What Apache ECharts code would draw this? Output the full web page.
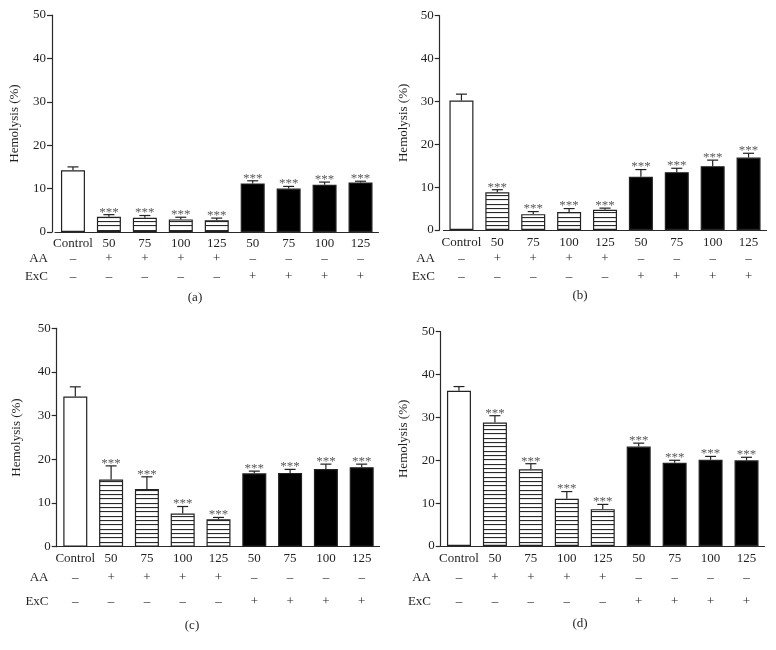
<!DOCTYPE html>
<html><head><meta charset="utf-8">
<script src="https://cdn.jsdelivr.net/npm/echarts@6/dist/echarts.min.js"></script>
<style>html,body{margin:0;padding:0;background:#fff}#c{width:776px;height:650px}</style>
</head><body><div id="c"></div>
<script>
// ---------- data ----------
const categories = ['Control', '50', '75', '100', '125', '50', '75', '100', '125'];
const aaSigns  = ['–', '+', '+', '+', '+', '–', '–', '–', '–'];
const excSigns = ['–', '–', '–', '–', '–', '+', '+', '+', '+'];
const rowNames = ['AA', 'ExC'];
const panelLetters = ['(a)', '(b)', '(c)', '(d)'];
const sigLabels = ['', '***', '***', '***', '***', '***', '***', '***', '***'];
const yAxisName = 'Hemolysis (%)';
// bar type per category: 0 = control (white), 1 = AA (hatched), 2 = ExC (black)
const barKinds = [0, 1, 1, 1, 1, 2, 2, 2, 2];

const meanA = [14.2, 3.5, 3.3, 2.9, 2.7, 11.2, 10.0, 10.9, 11.4];
const errA  = [0.8, 0.5, 0.5, 0.5, 0.5, 0.6, 0.5, 0.6, 0.3];
const meanB = [30.2, 8.8, 3.7, 4.2, 4.7, 12.4, 13.5, 14.9, 16.9];
const errB  = [1.5, 0.6, 0.6, 0.8, 0.4, 1.7, 0.9, 1.4, 1.0];
const meanC = [34.4, 15.4, 13.2, 7.6, 6.3, 16.8, 16.9, 17.8, 18.2];
const errC  = [2.2, 3.1, 2.8, 1.6, 0.4, 0.5, 0.8, 1.1, 0.7];
const meanD = [36.2, 28.8, 17.9, 11.0, 8.6, 23.2, 19.4, 20.1, 20.0];
const errD  = [1.0, 1.6, 1.3, 1.7, 1.1, 0.8, 0.6, 0.8, 0.7];

const means = [meanA, meanB, meanC, meanD];
const errs = [errA, errB, errC, errD];

// ---------- layout ----------
const panels = [
  {left: 55, top: 15, width: 323.5, height: 217, yOff: 3, nameGap: 31, catM: 5, rows: [20.5, 38], rowX: 48, letterX: 195, letterY: 291},
  {left: 443.5, top: 15.7, width: 323, height: 214.3, yOff: 3.8, nameGap: 30, catM: 6, rows: [22.5, 40], rowX: 435, letterX: 580, letterY: 289.5},
  {left: 57.4, top: 328.3, width: 322.2, height: 218.4, yOff: 0.7, nameGap: 34, catM: 5, rows: [24, 48.5], rowX: 48.5, letterX: 192, letterY: 619},
  {left: 441, top: 331.7, width: 323.5, height: 214.3, yOff: 0.3, nameGap: 30.6, catM: 5.8, rows: [25.5, 49], rowX: 431, letterX: 580, letterY: 617.5}
];

const FONT = '"Liberation Serif", "Times New Roman", serif';
const TXT = '#231f20';
const AXIS = '#2a2a2a';

// hatch pattern (horizontal lines)
const hatch = document.createElement('canvas');
hatch.width = 8; hatch.height = 13;
(function () {
  const ctx = hatch.getContext('2d');
  ctx.fillStyle = '#fff';
  ctx.fillRect(0, 0, 8, 13);
  ctx.fillStyle = '#2a2a2a';
  [0, 4, 9].forEach(function (y) { ctx.fillRect(0, y, 8, 1.1); });
})();

function fillFor(kind) {
  if (kind === 0) return '#ffffff';
  if (kind === 1) return {image: hatch, repeat: 'repeat'};
  return '#000000';
}

const grid = [], xAxis = [], yAxis = [], series = [], graphic = [];

panels.forEach(function (p, k) {
  grid.push({left: p.left, top: p.top, width: p.width, height: p.height, containLabel: false});
  xAxis.push({
    type: 'category', gridIndex: k, data: categories, position: 'bottom',
    axisLine: {show: true, lineStyle: {color: AXIS, width: 1.2}},
    axisTick: {show: false},
    axisLabel: {fontFamily: FONT, fontSize: 13, color: TXT, margin: p.catM, interval: 0}
  });
  [aaSigns, excSigns].forEach(function (signs, r) {
    xAxis.push({
      type: 'category', gridIndex: k, data: signs, position: 'bottom', offset: p.rows[r] - 5,
      axisLine: {show: false}, axisTick: {show: false}, splitLine: {show: false},
      axisLabel: {fontFamily: FONT, fontSize: 13, color: TXT, margin: 5, interval: 0}
    });
  });
  yAxis.push({
    type: 'value', gridIndex: k, min: 0, max: 50, interval: 10, offset: p.yOff,
    name: yAxisName, nameLocation: 'middle', nameGap: p.nameGap,
    nameTextStyle: {fontFamily: FONT, fontSize: 13, color: TXT},
    axisLine: {show: true, lineStyle: {color: AXIS, width: 1.2}},
    axisTick: {show: true, length: 5, lineStyle: {color: AXIS, width: 1.2}},
    axisLabel: {fontFamily: FONT, fontSize: 13, color: TXT, margin: 6},
    splitLine: {show: false}
  });
  const xi = k * 3;
  const m = means[k], e = errs[k];
  series.push({
    type: 'bar', xAxisIndex: xi, yAxisIndex: k, barWidth: 24,
    data: m.map(function (v, i) {
      return {value: v, itemStyle: {color: fillFor(barKinds[i]), borderColor: '#222', borderWidth: 1.2}};
    }),
    silent: true, animation: false
  });
  series.push({
    type: 'custom', xAxisIndex: xi, yAxisIndex: k, z: 5, animation: false, silent: true,
    data: m.map(function (v, i) { return [i, v, e[i]]; }),
    renderItem: function (params, api) {
      const i = api.value(0), v = api.value(1), er = api.value(2);
      const p0 = api.coord([i, v]);
      const p1 = api.coord([i, v + er]);
      const x = p0[0];
      const st = {stroke: '#222', lineWidth: 1.2};
      const children = [
        {type: 'line', shape: {x1: x, y1: p0[1], x2: x, y2: p1[1]}, style: st},
        {type: 'line', shape: {x1: x - 5.5, y1: p1[1], x2: x + 5.5, y2: p1[1]}, style: st}
      ];
      const s = sigLabels[params.dataIndex];
      if (s) {
        children.push({type: 'text', style: {
          text: s, x: x, y: p1[1] + 4, align: 'center', verticalAlign: 'bottom',
          textAlign: 'center', textVerticalAlign: 'bottom',
          font: '13px ' + FONT, fill: '#5a5a5a'
        }});
      }
      return {type: 'group', children: children};
    }
  });
  const y0 = p.top + p.height;
  rowNames.forEach(function (nm, r) {
    graphic.push({type: 'text', silent: true, style: {
      text: nm, x: p.rowX, y: y0 + p.rows[r], align: 'right', verticalAlign: 'top',
      textAlign: 'right', textVerticalAlign: 'top', font: '13px ' + FONT, fill: TXT
    }});
  });
  graphic.push({type: 'text', silent: true, style: {
    text: panelLetters[k], x: p.letterX, y: p.letterY, align: 'center', verticalAlign: 'top',
    textAlign: 'center', textVerticalAlign: 'top', font: '13px ' + FONT, fill: TXT
  }});
});

const chart = echarts.init(document.getElementById('c'), null, {renderer: 'canvas'});
chart.setOption({
  backgroundColor: '#ffffff',
  animation: false,
  grid: grid, xAxis: xAxis, yAxis: yAxis, series: series, graphic: graphic
});
</script>
</body></html>
